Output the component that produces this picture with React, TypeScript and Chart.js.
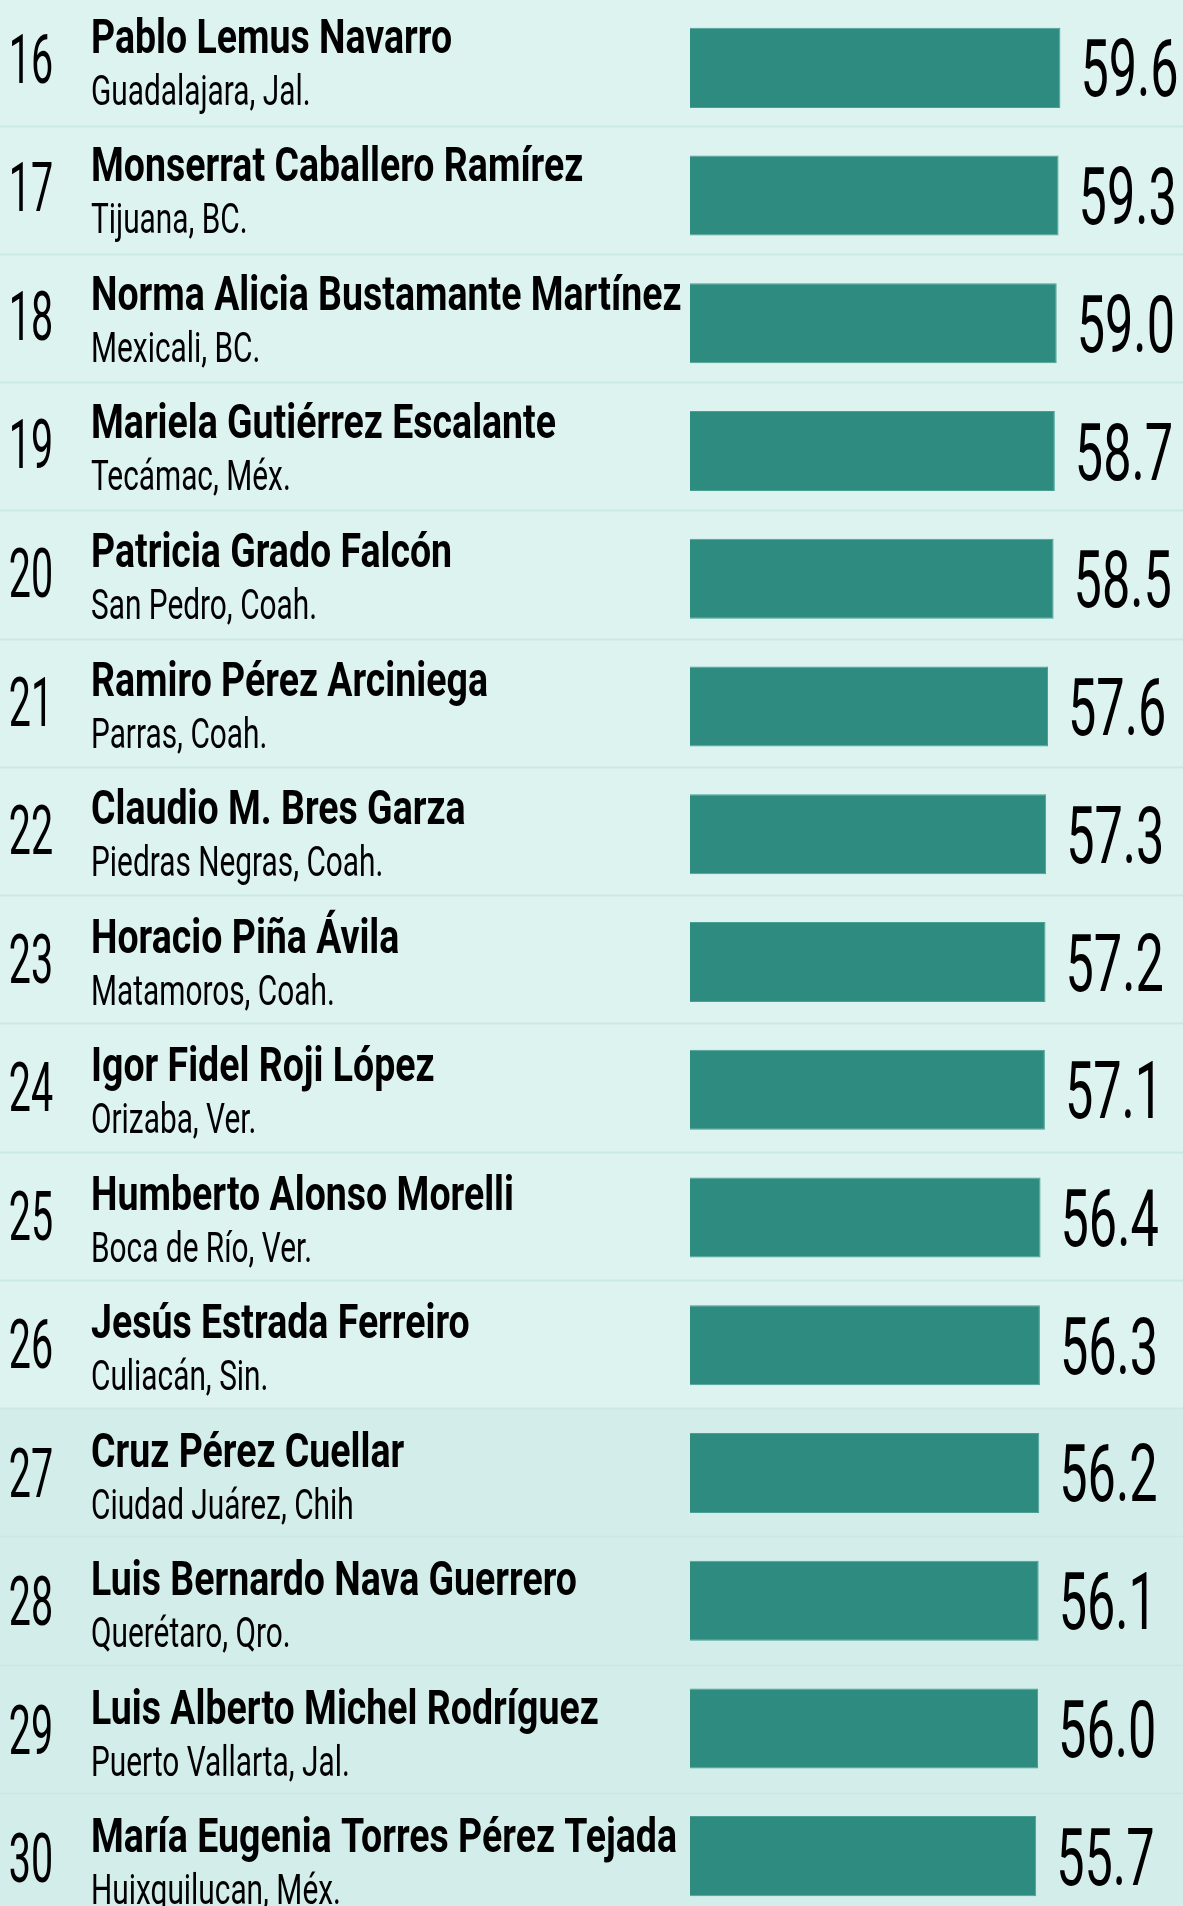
import React, { useEffect, useRef } from "react";
import { Chart, registerables } from "chart.js";

Chart.register(...registerables);

const ranks = ["16", "17", "18", "19", "20", "21", "22", "23", "24", "25", "26", "27", "28", "29", "30"];
const names = [
  "Pablo Lemus Navarro",
  "Monserrat Caballero Ramírez",
  "Norma Alicia Bustamante Martínez",
  "Mariela Gutiérrez Escalante",
  "Patricia Grado Falcón",
  "Ramiro Pérez Arciniega",
  "Claudio M. Bres Garza",
  "Horacio Piña Ávila",
  "Igor Fidel Roji López",
  "Humberto Alonso Morelli",
  "Jesús Estrada Ferreiro",
  "Cruz Pérez Cuellar",
  "Luis Bernardo Nava Guerrero",
  "Luis Alberto Michel Rodríguez",
  "María Eugenia Torres Pérez Tejada",
];
const cities = [
  "Guadalajara, Jal.",
  "Tijuana, BC.",
  "Mexicali, BC.",
  "Tecámac, Méx.",
  "San Pedro, Coah.",
  "Parras, Coah.",
  "Piedras Negras, Coah.",
  "Matamoros, Coah.",
  "Orizaba, Ver.",
  "Boca de Río, Ver.",
  "Culiacán, Sin.",
  "Ciudad Juárez, Chih",
  "Querétaro, Qro.",
  "Puerto Vallarta, Jal.",
  "Huixquilucan, Méx.",
];
const values = [59.6, 59.3, 59.0, 58.7, 58.5, 57.6, 57.3, 57.2, 57.1, 56.4, 56.3, 56.2, 56.1, 56.0, 55.7];

const BAR_COLOR = "#2e8b80";
const BAR_EDGE = "#4a9f93";
const BG_LIGHT = "#ddf3f0";
const BG_DARK = "#d3eeea";
const SEP_COLOR = "#cbe9e4";
const TEXT_COLOR = "#000000";
const FONT = "Roboto, 'Noto Sans', sans-serif";

function drawCondensed(
  ctx: CanvasRenderingContext2D,
  text: string,
  x: number,
  y: number,
  sx: number,
  align: CanvasTextAlign
) {
  ctx.save();
  ctx.translate(x, y);
  ctx.scale(sx, 1);
  ctx.textAlign = align;
  ctx.textBaseline = "alphabetic";
  ctx.fillText(text, 0, 0);
  ctx.restore();
}

const backgroundPlugin = {
  id: "rowBackground",
  beforeDraw(chart: any) {
    const { ctx, width, height } = chart;
    const y = chart.scales.y;
    const step = y.getPixelForValue(1) - y.getPixelForValue(0);
    ctx.save();
    ctx.fillStyle = BG_LIGHT;
    ctx.fillRect(0, 0, width, height);
    const sepY = (i: number) => y.getPixelForValue(i) + step / 2 - 6 + i * 0.5;
    ctx.fillStyle = BG_DARK;
    const darkStart = sepY(10);
    ctx.fillRect(0, darkStart, width, height - darkStart);
    ctx.strokeStyle = SEP_COLOR;
    ctx.lineWidth = 2;
    for (let i = 0; i < ranks.length - 1; i++) {
      const yy = Math.round(sepY(i)) + 0.5;
      ctx.beginPath();
      ctx.moveTo(0, yy);
      ctx.lineTo(width, yy);
      ctx.stroke();
    }
    ctx.restore();
  },
};

const labelsPlugin = {
  id: "rowLabels",
  afterDatasetsDraw(chart: any) {
    const { ctx } = chart;
    const x = chart.scales.x;
    const y = chart.scales.y;
    ctx.save();
    ctx.fillStyle = TEXT_COLOR;
    for (let i = 0; i < ranks.length; i++) {
      const cy = y.getPixelForValue(i);
      const drift = i * 0.8;
      ctx.font = `400 68px ${FONT}`;
      drawCondensed(ctx, ranks[i], 31, cy + 15 + drift, 0.58, "center");
      ctx.font = `700 49px ${FONT}`;
      drawCondensed(ctx, names[i], 91, cy - 15 + drift, 0.765, "left");
      ctx.font = `400 42px ${FONT}`;
      drawCondensed(ctx, cities[i], 91, cy + 37 + drift, 0.71, "left");
      ctx.font = `400 80px ${FONT}`;
      const xe = x.getPixelForValue(values[i]);
      drawCondensed(ctx, values[i].toFixed(1), xe + 20, cy + 28.5, 0.63, "left");
    }
    ctx.restore();
  },
};

export default function App() {
  const canvasRef = useRef<HTMLCanvasElement | null>(null);

  useEffect(() => {
    document.body.style.margin = "0";
    const canvas = canvasRef.current;
    if (!canvas) return;
    const chart = new Chart(canvas, {
      type: "bar",
      data: {
        labels: ranks,
        datasets: [
          {
            data: values,
            backgroundColor: BAR_COLOR,
            borderColor: BAR_EDGE,
            borderWidth: 1,
            barPercentage: 0.6265,
            categoryPercentage: 1,
          },
        ],
      },
      options: {
        indexAxis: "y",
        animation: false,
        responsive: false,
        devicePixelRatio: 1,
        layout: { padding: { left: 690, right: 2, top: 4, bottom: 0 } },
        plugins: {
          legend: { display: false },
          tooltip: { enabled: false },
        },
        scales: {
          x: { display: false, min: 0, max: 79, grid: { display: false } },
          y: { display: false, grid: { display: false } },
        },
      },
      plugins: [backgroundPlugin, labelsPlugin],
    });
    return () => chart.destroy();
  }, []);

  return (
    <div style={{ width: 1183, height: 1906, overflow: "hidden", position: "relative" }}>
      <canvas ref={canvasRef} width={1183} height={1920} style={{ display: "block", width: 1183, height: 1920 }} />
    </div>
  );
}
